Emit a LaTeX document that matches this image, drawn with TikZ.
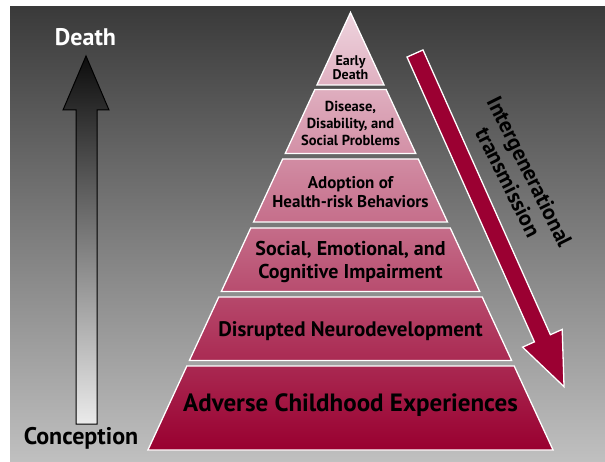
\documentclass[tikz,border=0pt]{standalone}
\usepackage{fontspec}
\setmainfont{PT Sans}
\definecolor{pyTop}{RGB}{238,212,222}
\definecolor{pyBot}{RGB}{153,0,48}
\definecolor{redArrow}{RGB}{155,0,50}
\definecolor{bgTop}{RGB}{58,58,58}
\definecolor{bgBot}{RGB}{192,192,192}
\newcommand\pyrlayer[4]{%
  \pgfmathsetmacro\wa{0.463*(#1-12.5)}%
  \pgfmathsetmacro\wb{0.463*(#2-12.5)}%
  \shadedraw[layer, top color=pyBot!#3!pyTop, bottom color=pyBot!#4!pyTop]
    (350.5-\wa,#1) -- (350.5+\wa,#1) -- (350.5+\wb,#2) -- (350.5-\wb,#2) -- cycle;
}
\newcommand\fs[2]{\bfseries\fontsize{#1}{#2}\selectfont}
\begin{document}
\begin{tikzpicture}[x=1pt,y=-1pt,
  layer/.style={draw=white, line width=1.3pt},
  lbl/.style={text=black, align=center, inner sep=0pt}]
\useasboundingbox (0,0) rectangle (605,462);
\shade[top color=bgTop, bottom color=bgBot] (10,7) rectangle (605,462);
% pyramid layers
\pyrlayer{12.5}{85}{0}{17}
\pyrlayer{89.5}{153.5}{18}{32}
\pyrlayer{159}{222}{34}{48}
\pyrlayer{228}{291.5}{49}{64}
\pyrlayer{297}{360.5}{66}{80}
\pyrlayer{366}{450}{81}{100}
% left arrow
\shadedraw[top color=black!95, bottom color=black!8, draw=black, line width=1pt]
  (86,56) -- (109,110) -- (97,110) -- (97,424) -- (76,424) -- (76,110) -- (63,110) -- cycle;
% red arrow
\begin{scope}[shift={(415,53.5)}, rotate=-65.9]
  \filldraw[fill=redArrow, draw=white, line width=1.3pt]
    (0,-8.75) -- (312,-8.75) -- (312,-21.7) -- (365,0) -- (312,21.7) -- (312,8.75) -- (0,8.75) -- cycle;
\end{scope}
% labels
\node[lbl, text=white, font=\fs{24}{26}] (death) at (85.5,37) {Death};
\node[lbl, font=\fs{24}{26}] (conception) at (81,438) {Conception};
\node[lbl, font=\fs{14}{12}] (early) at (350.5,68) {Early\\Death};
\node[lbl, font=\fs{14.5}{17}] (disease) at (350.5,123) {Disease,\\Disability, and\\Social Problems};
\node[lbl, font=\fs{17}{19.5}] (adoption) at (350.5,192) {Adoption of\\Health-risk Behaviors};
\node[lbl, font=\fs{20}{23}] (social) at (350.5,261.5) {Social, Emotional, and\\Cognitive Impairment};
\node[lbl, font=\fs{21}{23}] (neuro) at (350.5,331) {Disrupted Neurodevelopment};
\node[lbl, font=\fs{25}{27}] (ace) at (350.5,405) {Adverse Childhood Experiences};
\node[lbl, rotate=-63.5, font=\fs{22}{24}] (trans) at (519,177) {Intergenerational\\transmission};
\end{tikzpicture}
\end{document}
